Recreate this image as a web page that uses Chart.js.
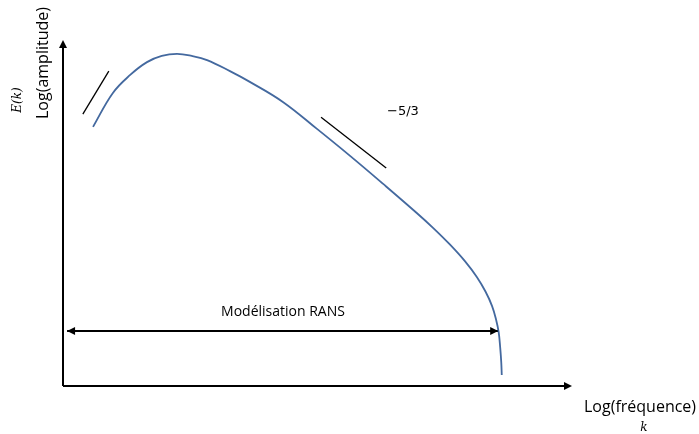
<!DOCTYPE html>
<html>
<head>
<meta charset="utf-8">
<script src="https://cdn.jsdelivr.net/npm/chart.js@4"></script>
<style>
  html, body { margin: 0; padding: 0; background: #fff; }
</style>
</head>
<body>
<canvas id="chart" width="699" height="434"></canvas>
<script>
// spectre schématique, unités arbitraires (0-100 sur chaque axe)
const spectrumX = [5.9, 9.8, 13.2, 16.5, 19.4, 22.4, 25.3, 28.3, 32.8, 36.7, 43.2, 49.9, 56.4, 62.9, 69.5, 72.7, 76.0, 79.0, 81.3, 83.0, 84.3, 85.1, 85.6, 85.9, 86.1, 86.2];
const spectrumY = [74.9, 84.7, 89.9, 93.6, 95.4, 96.0, 95.4, 94.2, 91.0, 87.9, 82.1, 74.3, 66.5, 58.4, 50.0, 45.7, 40.9, 36.0, 31.5, 27.3, 23.1, 19.1, 15.5, 11.0, 6.9, 3.2];
const slopeLowX = [3.9, 9.0];
const slopeLowY = [78.6, 91.0];
const slopeInertialX = [50.7, 63.5];
const slopeInertialY = [77.7, 63.0];
const ransX = [0.8, 85.5];
const ransY = 15.9;
const slopeLabel = '\u22125/3';
const ransLabel = 'Modélisation RANS';

const toPoints = (xs, ys) => xs.map((x, i) => ({ x, y: ys[i] }));

const annotations = {
  id: 'annotations',
  afterDraw(chart) {
    const { ctx, chartArea: { left, right, top, bottom }, scales: { x, y } } = chart;
    ctx.save();
    ctx.strokeStyle = '#000';
    ctx.fillStyle = '#000';
    ctx.lineWidth = 2;

    // axes with arrows
    ctx.beginPath();
    ctx.moveTo(left, bottom);
    ctx.lineTo(left, top + 6);
    ctx.moveTo(left, bottom);
    ctx.lineTo(right - 6, bottom);
    ctx.stroke();
    ctx.beginPath();
    ctx.moveTo(left, top);
    ctx.lineTo(left - 4, top + 8);
    ctx.lineTo(left + 4, top + 8);
    ctx.closePath();
    ctx.moveTo(right, bottom);
    ctx.lineTo(right - 8, bottom - 4);
    ctx.lineTo(right - 8, bottom + 4);
    ctx.closePath();
    ctx.fill();

    // RANS arrow heads
    const ry = y.getPixelForValue(ransY);
    const rx0 = x.getPixelForValue(ransX[0]);
    const rx1 = x.getPixelForValue(ransX[1]);
    ctx.beginPath();
    ctx.moveTo(rx0, ry);
    ctx.lineTo(rx0 + 8, ry - 4);
    ctx.lineTo(rx0 + 8, ry + 4);
    ctx.closePath();
    ctx.moveTo(rx1, ry);
    ctx.lineTo(rx1 - 8, ry - 4);
    ctx.lineTo(rx1 - 8, ry + 4);
    ctx.closePath();
    ctx.fill();

    // texts
    ctx.textBaseline = 'middle';
    ctx.textAlign = 'center';
    ctx.font = '14px "Open Sans", sans-serif';
    ctx.fillText(ransLabel, 283, ry - 19);
    ctx.textAlign = 'left';
    ctx.font = '13px "DejaVu Sans", sans-serif';
    ctx.fillText(slopeLabel, 387, 112);

    ctx.font = '16px "Open Sans", sans-serif';
    ctx.fillText('Log(fréquence)', 584, 407);
    ctx.font = 'italic 12px "DejaVu Serif", serif';
    ctx.textAlign = 'center';
    ctx.fillText('k', 644, 428);

    ctx.save();
    ctx.translate(43, 63);
    ctx.rotate(-Math.PI / 2);
    ctx.font = '16px "Open Sans", sans-serif';
    ctx.fillText('Log(amplitude)', 0, 0);
    ctx.restore();
    ctx.save();
    ctx.translate(18, 100);
    ctx.rotate(-Math.PI / 2);
    ctx.font = 'italic 12px "DejaVu Serif", serif';
    ctx.fillText('E(k)', 0, 0);
    ctx.restore();

    ctx.restore();
  },
};

new Chart(document.getElementById('chart'), {
  type: 'scatter',
  data: {
    datasets: [
      {
        data: toPoints(spectrumX, spectrumY),
        showLine: true,
        borderColor: '#44699F',
        borderWidth: 1.8,
        pointRadius: 0,
        tension: 0.4,
      },
      {
        data: toPoints(slopeLowX, slopeLowY),
        showLine: true,
        borderColor: '#000',
        borderWidth: 1.3,
        pointRadius: 0,
      },
      {
        data: toPoints(slopeInertialX, slopeInertialY),
        showLine: true,
        borderColor: '#000',
        borderWidth: 1.3,
        pointRadius: 0,
      },
      {
        data: toPoints(ransX, [ransY, ransY]),
        showLine: true,
        borderColor: '#000',
        borderWidth: 2,
        pointRadius: 0,
      },
    ],
  },
  options: {
    responsive: false,
    animation: false,
    layout: { padding: { left: 63, right: 127, top: 40, bottom: 48 } },
    scales: {
      x: { type: 'linear', min: 0, max: 100, display: false },
      y: { type: 'linear', min: 0, max: 100, display: false },
    },
    plugins: {
      legend: { display: false },
      tooltip: { enabled: false },
    },
    events: [],
  },
  plugins: [annotations],
});
</script>
</body>
</html>
